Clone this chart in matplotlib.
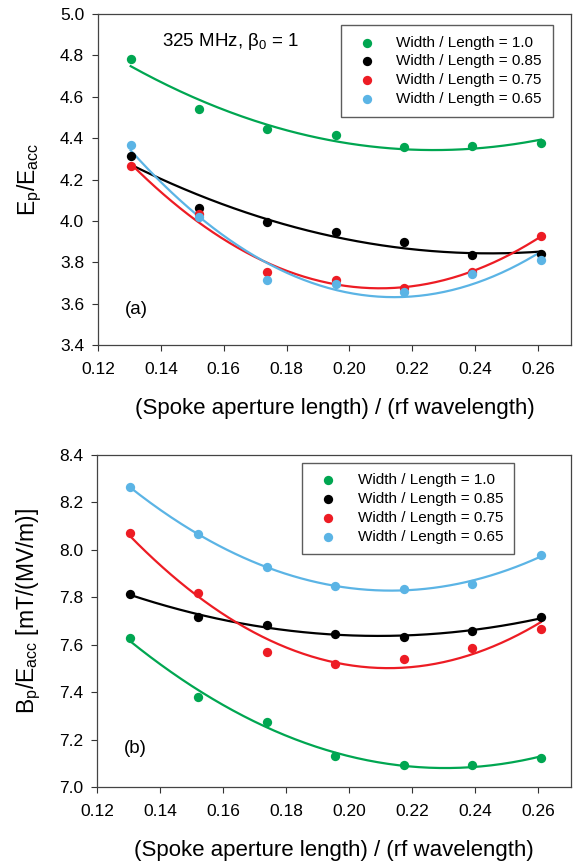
import numpy as np
import matplotlib
matplotlib.use('Agg')
import matplotlib.pyplot as plt

plt.rcParams['font.family'] = ['Liberation Sans', 'DejaVu Sans']
plt.rcParams['mathtext.default'] = 'regular'

# spoke aperture length / rf wavelength
x = [0.1304, 0.1522, 0.1739, 0.1957, 0.2174, 0.2391, 0.2609]

labels = ['Width / Length = 1.0', 'Width / Length = 0.85',
          'Width / Length = 0.75', 'Width / Length = 0.65']
colors = ['#00A651', '#000000', '#ED1C24', '#5BB4E5']

# (a) Ep/Eacc
ep_w100 = [4.781, 4.539, 4.442, 4.414, 4.357, 4.361, 4.376]
ep_w085 = [4.312, 4.062, 3.994, 3.944, 3.899, 3.837, 3.840]
ep_w075 = [4.263, 4.032, 3.752, 3.715, 3.677, 3.752, 3.927]
ep_w065 = [4.366, 4.021, 3.713, 3.693, 3.654, 3.741, 3.811]

# (b) Bp/Eacc
bp_w100 = [7.628, 7.380, 7.276, 7.129, 7.094, 7.094, 7.122]
bp_w085 = [7.813, 7.718, 7.682, 7.647, 7.633, 7.657, 7.715]
bp_w075 = [8.071, 7.817, 7.568, 7.519, 7.540, 7.587, 7.667]
bp_w065 = [8.264, 8.065, 7.929, 7.846, 7.837, 7.858, 7.977]

W, H = 574, 863
fig = plt.figure(figsize=(W / 100, H / 100), dpi=100)
ax1 = fig.add_axes([98 / W, 1 - 345 / H, 473 / W, 331 / H])
ax2 = fig.add_axes([97 / W, 1 - 787 / H, 474 / W, 332 / H])


def draw(ax, series, ylim, yticks, ylabel, ylab_y, tag, tag_y, legend_anchor):
    xs = np.array(x)
    xf = np.linspace(xs.min(), xs.max(), 200)
    for ys, c, lab in zip(series, colors, labels):
        ys = np.array(ys)
        p = np.poly1d(np.polyfit(xs, ys, 2))
        ax.plot(xf, p(xf), color=c, lw=1.6, zorder=2)
        ax.scatter(xs, ys, s=45, color=c, label=lab, zorder=3, linewidths=0)
    ax.set_xlim(0.12, 0.2705)
    ax.set_ylim(*ylim)
    xt = np.arange(0.12, 0.261, 0.02)
    ax.set_xticks(xt)
    ax.set_xticklabels(['%.2f' % v for v in xt])
    ax.set_yticks(yticks)
    ax.set_yticklabels(['%.1f' % v for v in yticks])
    ax.tick_params(direction='out', length=4, width=0.8, labelsize=12.5,
                   colors='#333333', labelcolor='black')
    ax.tick_params(axis='x', pad=8)
    ax.tick_params(axis='y', pad=6)
    for s in ax.spines.values():
        s.set_color('#444444')
        s.set_linewidth(0.9)
    ax.set_xlabel('(Spoke aperture length) / (rf wavelength)', fontsize=16)
    ax.xaxis.set_label_coords(0.5, -0.16)
    ax.set_ylabel(ylabel, fontsize=16.5)
    ax.yaxis.set_label_coords(-0.114, ylab_y)
    ax.text(0.057, tag_y, tag, transform=ax.transAxes, fontsize=13.5, va='center')
    leg = ax.legend(loc='upper right', bbox_to_anchor=legend_anchor, fontsize=11,
                    frameon=True, fancybox=False, borderpad=0.7, handlelength=2.0,
                    handletextpad=0.95, labelspacing=0.31, scatterpoints=1,
                    borderaxespad=0)
    leg.get_frame().set_edgecolor('#333333')
    leg.get_frame().set_linewidth(1.0)


draw(ax1, [ep_w100, ep_w085, ep_w075, ep_w065], (3.4, 5.0),
     np.arange(3.4, 5.01, 0.2), '$E_{p}/E_{acc}$', 0.5, '(a)', 0.106, (0.961, 0.967))
ax1.text(0.135, 0.918, r'325 MHz, $\beta_{0}$ = 1', transform=ax1.transAxes,
         fontsize=13.5, va='center')

draw(ax2, [bp_w100, bp_w085, bp_w075, bp_w065], (7.0, 8.4),
     np.arange(7.0, 8.41, 0.2), '$B_{p}/E_{acc}$ [mT/(MV/m)]', 0.53, '(b)', 0.117, (0.88, 0.977))

fig.savefig('out.png', dpi=100)
